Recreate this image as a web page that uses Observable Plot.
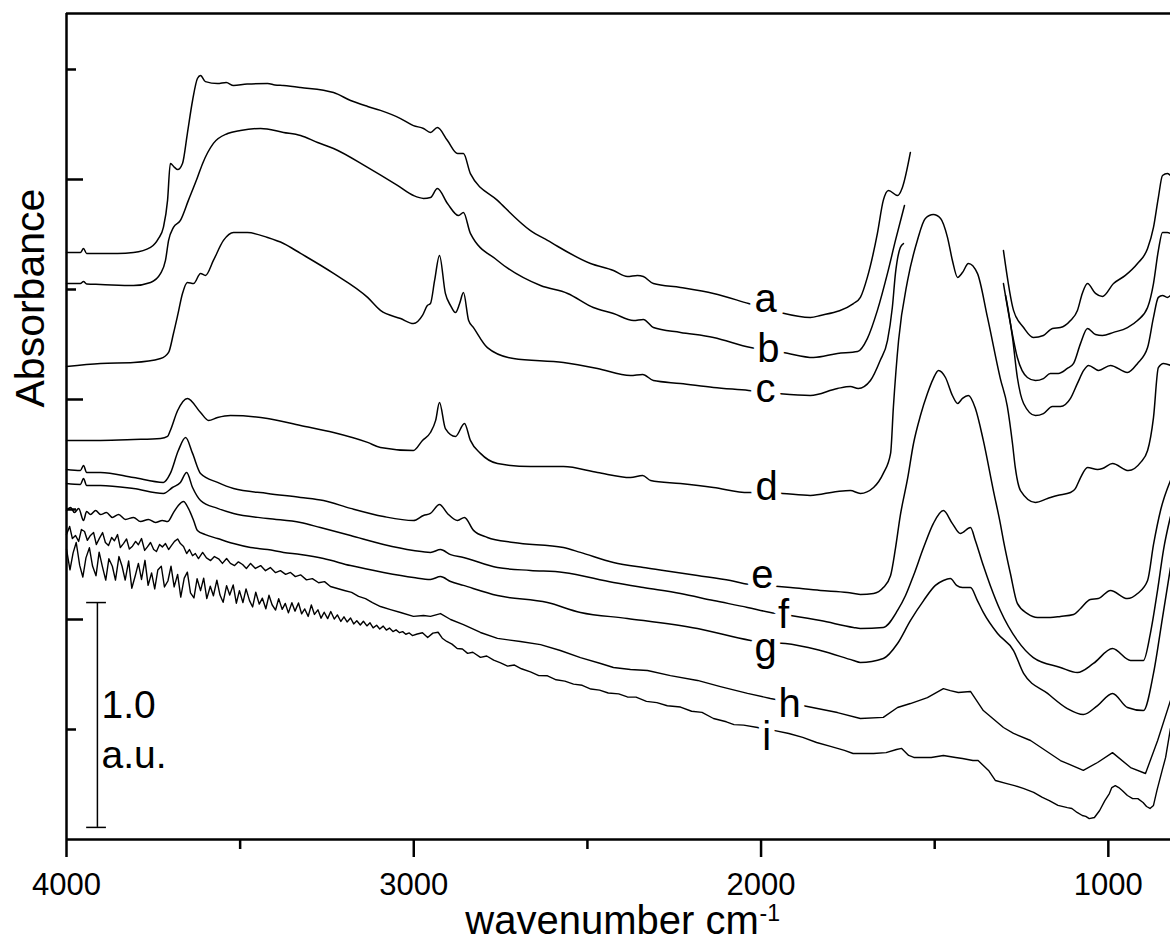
<!DOCTYPE html>
<html>
<head>
<meta charset="utf-8">
<script src="https://cdn.jsdelivr.net/npm/d3@7"></script>
<script src="https://cdn.jsdelivr.net/npm/@observablehq/plot@0.6"></script>
<style>
  html, body { margin: 0; padding: 0; background: #fff; }
  #chart svg { display: block; }
</style>
</head>
<body>
<div id="chart"></div>
<script>
// ---- Data: wavenumber (cm-1), absorbance (a.u., stacked) ----
const specA = [[4000,2.668],[3960,2.668],[3951,2.686],[3942,2.664],[3853,2.664],[3807,2.668],[3758,2.691],[3735,2.732],[3721,2.782],[3709,2.905],[3701,3.073],[3689,3.055],[3680,3.045],[3666,3.073],[3652,3.209],[3637,3.359],[3623,3.459],[3614,3.473],[3600,3.445],[3565,3.436],[3540,3.441],[3519,3.427],[3480,3.434],[3421,3.436],[3400,3.430],[3375,3.427],[3326,3.418],[3231,3.395],[3182,3.359],[3133,3.332],[3096,3.314],[3038,3.277],[3001,3.245],[2972,3.232],[2952,3.214],[2932,3.236],[2903,3.177],[2874,3.118],[2857,3.118],[2837,3.027],[2759,2.905],[2664,2.768],[2615,2.723],[2491,2.618],[2425,2.586],[2385,2.559],[2356,2.564],[2339,2.559],[2310,2.527],[2232,2.509],[2137,2.482],[2036,2.436],[1987,2.414],[1944,2.395],[1858,2.373],[1829,2.382],[1734,2.436],[1714,2.464],[1694,2.555],[1665,2.755],[1648,2.905],[1633,2.950],[1607,2.927],[1593,2.964],[1570,3.123],
  [1450,null],
  [1302,2.677],[1273,2.405],[1244,2.327],[1216,2.282],[1187,2.291],[1161,2.323],[1138,2.327],[1109,2.359],[1089,2.405],[1075,2.482],[1060,2.527],[1037,2.482],[1017,2.468],[985,2.527],[951,2.564],[916,2.618],[887,2.686],[870,2.782],[856,2.918],[844,3.018],[830,3.027],[821,3.018]];

const specB = [[4000,2.527],[3960,2.527],[3951,2.536],[3942,2.525],[3902,2.523],[3807,2.518],[3758,2.532],[3729,2.573],[3715,2.632],[3706,2.723],[3692,2.782],[3672,2.814],[3649,2.905],[3623,3.009],[3608,3.073],[3577,3.164],[3536,3.209],[3499,3.223],[3441,3.232],[3375,3.214],[3326,3.200],[3277,3.168],[3231,3.141],[3133,3.055],[3047,2.973],[3001,2.927],[2972,2.914],[2952,2.918],[2932,2.959],[2903,2.891],[2871,2.836],[2857,2.850],[2837,2.755],[2759,2.632],[2635,2.518],[2557,2.482],[2483,2.418],[2425,2.391],[2367,2.359],[2339,2.364],[2310,2.327],[2232,2.305],[2137,2.282],[2030,2.236],[1982,2.223],[1938,2.214],[1849,2.191],[1780,2.209],[1722,2.218],[1694,2.277],[1665,2.405],[1636,2.573],[1613,2.723],[1587,2.882],
  [1450,null],
  [1302,2.527],[1282,2.345],[1262,2.191],[1233,2.100],[1210,2.086],[1187,2.095],[1167,2.118],[1144,2.118],[1118,2.141],[1100,2.164],[1080,2.255],[1060,2.323],[1037,2.295],[1017,2.291],[985,2.305],[945,2.327],[916,2.359],[887,2.418],[870,2.527],[856,2.677],[844,2.759],[830,2.759],[821,2.755]];

const specC = [[4000,2.150],[3902,2.164],[3807,2.168],[3729,2.186],[3706,2.214],[3692,2.300],[3680,2.382],[3666,2.482],[3652,2.532],[3634,2.527],[3614,2.573],[3600,2.564],[3577,2.632],[3548,2.723],[3519,2.759],[3479,2.759],[3421,2.736],[3375,2.709],[3326,2.664],[3231,2.573],[3133,2.464],[3096,2.405],[3038,2.368],[3001,2.345],[2975,2.382],[2961,2.427],[2952,2.436],[2940,2.541],[2926,2.655],[2909,2.482],[2894,2.427],[2880,2.395],[2868,2.436],[2857,2.486],[2842,2.359],[2828,2.327],[2788,2.236],[2713,2.186],[2569,2.168],[2471,2.141],[2376,2.109],[2341,2.114],[2310,2.086],[2232,2.073],[2137,2.055],[2036,2.041],[1953,2.027],[1858,2.018],[1780,2.050],[1743,2.059],[1720,2.050],[1685,2.086],[1657,2.177],[1636,2.268],[1622,2.418],[1613,2.573],[1599,2.691],[1590,2.709],
  [1450,null],
  [1296,2.473],[1288,2.405],[1276,2.282],[1262,2.100],[1244,1.982],[1210,1.927],[1187,1.936],[1161,1.968],[1138,1.968],[1109,2.005],[1089,2.073],[1071,2.132],[1057,2.155],[1028,2.132],[994,2.155],[945,2.123],[916,2.164],[887,2.236],[870,2.373],[856,2.464],[844,2.473],[830,2.464],[821,2.473]];

const specD = [[4000,1.814],[3902,1.814],[3807,1.818],[3729,1.823],[3709,1.832],[3701,1.859],[3680,1.950],[3652,2.005],[3614,1.941],[3591,1.905],[3565,1.918],[3528,1.927],[3421,1.914],[3326,1.882],[3231,1.850],[3133,1.805],[3096,1.782],[3001,1.768],[2975,1.814],[2952,1.850],[2937,1.905],[2926,1.986],[2909,1.868],[2880,1.832],[2854,1.891],[2837,1.814],[2808,1.755],[2759,1.709],[2664,1.695],[2569,1.695],[2471,1.668],[2376,1.645],[2341,1.655],[2318,1.632],[2232,1.618],[2137,1.600],[2036,1.577],[1984,1.577],[1938,1.573],[1858,1.564],[1780,1.582],[1743,1.586],[1714,1.573],[1676,1.600],[1648,1.664],[1627,1.755],[1619,1.964],[1604,2.268],[1578,2.541],[1550,2.723],[1527,2.823],[1504,2.841],[1483,2.823],[1463,2.736],[1449,2.632],[1434,2.555],[1420,2.577],[1403,2.618],[1377,2.573],[1348,2.373],[1311,2.095],[1291,1.970],[1276,1.800],[1268,1.691],[1253,1.586],[1210,1.532],[1175,1.550],[1147,1.564],[1109,1.577],[1095,1.595],[1080,1.645],[1060,1.691],[1031,1.682],[1017,1.686],[988,1.709],[942,1.677],[907,1.714],[887,1.768],[870,1.918],[856,2.145],[841,2.164],[821,2.155]];

const specE = [[4000,1.682],[3960,1.677],[3951,1.700],[3942,1.668],[3902,1.668],[3807,1.645],[3721,1.623],[3701,1.664],[3678,1.768],[3657,1.827],[3637,1.755],[3614,1.664],[3565,1.623],[3519,1.595],[3421,1.573],[3326,1.555],[3260,1.541],[3182,1.505],[3087,1.468],[3001,1.450],[2972,1.473],[2952,1.482],[2926,1.523],[2903,1.482],[2874,1.450],[2854,1.464],[2828,1.405],[2788,1.373],[2713,1.350],[2569,1.327],[2520,1.305],[2425,1.259],[2339,1.236],[2281,1.223],[2183,1.200],[2088,1.177],[2051,1.164],[1987,1.155],[1915,1.145],[1829,1.132],[1751,1.123],[1714,1.114],[1676,1.118],[1648,1.145],[1627,1.200],[1613,1.323],[1599,1.473],[1578,1.641],[1561,1.800],[1541,1.927],[1521,2.027],[1504,2.095],[1489,2.132],[1469,2.100],[1449,2.018],[1434,1.982],[1420,2.005],[1403,2.018],[1383,1.960],[1360,1.814],[1331,1.586],[1311,1.436],[1302,1.359],[1282,1.209],[1262,1.073],[1233,1.027],[1204,1.009],[1167,1.009],[1138,1.014],[1100,1.023],[1080,1.050],[1052,1.091],[1029,1.095],[994,1.132],[945,1.095],[916,1.118],[887,1.177],[870,1.340],[849,1.500],[821,1.632]];

const specF = [[4000,1.618],[3960,1.614],[3951,1.641],[3942,1.609],[3902,1.609],[3807,1.595],[3721,1.573],[3695,1.600],[3672,1.623],[3654,1.668],[3637,1.600],[3614,1.541],[3565,1.505],[3519,1.482],[3421,1.459],[3326,1.441],[3269,1.418],[3182,1.382],[3087,1.341],[3001,1.314],[2952,1.305],[2923,1.318],[2894,1.295],[2857,1.282],[2759,1.236],[2664,1.223],[2569,1.214],[2425,1.168],[2339,1.145],[2232,1.118],[2137,1.086],[2039,1.055],[1973,1.032],[1915,1.018],[1829,0.995],[1734,0.964],[1714,0.959],[1648,0.964],[1607,1.041],[1584,1.109],[1561,1.200],[1532,1.327],[1504,1.436],[1475,1.495],[1449,1.436],[1426,1.391],[1397,1.418],[1383,1.359],[1360,1.245],[1340,1.155],[1311,1.041],[1262,0.905],[1216,0.827],[1138,0.782],[1089,0.759],[1043,0.800],[988,0.868],[936,0.814],[899,0.814],[879,0.936],[858,1.136],[841,1.318],[821,1.468]];

const specG = [[4000,1.495],[3988,1.509],[3977,1.486],[3965,1.505],[3951,1.450],[3942,1.491],[3931,1.477],[3916,1.495],[3902,1.477],[3885,1.486],[3868,1.464],[3850,1.477],[3830,1.455],[3807,1.464],[3787,1.445],[3764,1.455],[3744,1.441],[3724,1.450],[3709,1.445],[3692,1.486],[3678,1.518],[3663,1.536],[3649,1.505],[3634,1.450],[3623,1.405],[3600,1.386],[3565,1.368],[3519,1.345],[3470,1.327],[3421,1.318],[3375,1.305],[3326,1.295],[3260,1.277],[3182,1.245],[3087,1.214],[3001,1.191],[2952,1.182],[2923,1.195],[2894,1.173],[2857,1.155],[2759,1.109],[2615,1.077],[2520,1.032],[2385,1.005],[2183,0.959],[2030,0.905],[1987,0.895],[1930,0.891],[1829,0.859],[1734,0.814],[1714,0.805],[1648,0.823],[1607,0.891],[1570,0.995],[1532,1.086],[1498,1.155],[1475,1.177],[1455,1.186],[1437,1.155],[1420,1.145],[1397,1.145],[1377,1.086],[1360,1.032],[1319,0.936],[1273,0.859],[1244,0.755],[1175,0.664],[1118,0.595],[1072,0.568],[1031,0.609],[988,0.664],[945,0.600],[899,0.586],[870,0.755],[844,1.009],[821,1.236]];

const specH = [[4000,1.386],[3991,1.423],[3983,1.368],[3974,1.382],[3965,1.355],[3957,1.409],[3948,1.400],[3940,1.360],[3931,1.382],[3922,1.395],[3914,1.341],[3905,1.370],[3896,1.395],[3888,1.350],[3879,1.336],[3870,1.373],[3862,1.358],[3853,1.386],[3845,1.327],[3836,1.345],[3827,1.366],[3819,1.320],[3810,1.333],[3801,1.355],[3793,1.340],[3784,1.368],[3775,1.314],[3767,1.330],[3758,1.350],[3749,1.318],[3741,1.309],[3732,1.341],[3724,1.330],[3715,1.345],[3706,1.318],[3698,1.336],[3689,1.355],[3680,1.366],[3672,1.345],[3663,1.332],[3654,1.300],[3646,1.318],[3637,1.290],[3629,1.300],[3620,1.277],[3608,1.305],[3597,1.280],[3585,1.268],[3574,1.286],[3562,1.276],[3551,1.255],[3539,1.277],[3528,1.255],[3516,1.245],[3505,1.262],[3493,1.250],[3482,1.232],[3470,1.255],[3456,1.232],[3441,1.245],[3427,1.222],[3413,1.236],[3398,1.213],[3384,1.222],[3369,1.205],[3355,1.214],[3341,1.195],[3326,1.203],[3309,1.180],[3292,1.186],[3274,1.167],[3257,1.172],[3240,1.150],[3220,1.141],[3200,1.132],[3179,1.123],[3159,1.105],[3139,1.095],[3119,1.077],[3096,1.059],[3067,1.045],[3038,1.032],[3001,1.014],[2972,1.018],[2952,1.014],[2923,1.027],[2894,1.000],[2857,0.977],[2808,0.941],[2759,0.914],[2693,0.900],[2635,0.886],[2578,0.859],[2520,0.827],[2462,0.800],[2425,0.782],[2376,0.773],[2327,0.768],[2261,0.745],[2183,0.723],[2117,0.695],[2039,0.664],[1973,0.641],[1915,0.623],[1881,0.609],[1780,0.577],[1714,0.550],[1648,0.555],[1607,0.600],[1570,0.618],[1521,0.645],[1475,0.686],[1455,0.677],[1432,0.668],[1397,0.673],[1360,0.586],[1302,0.509],[1273,0.482],[1224,0.450],[1138,0.359],[1072,0.314],[1031,0.350],[988,0.395],[936,0.327],[893,0.300],[858,0.450],[821,0.632]];

const specI = [[4000,1.320],[3990,1.226],[3981,1.303],[3972,1.350],[3962,1.246],[3953,1.193],[3944,1.280],[3934,1.326],[3925,1.243],[3915,1.199],[3906,1.306],[3897,1.243],[3887,1.179],[3878,1.276],[3868,1.242],[3859,1.179],[3849,1.286],[3840,1.242],[3831,1.179],[3821,1.266],[3812,1.142],[3802,1.199],[3793,1.255],[3784,1.182],[3774,1.269],[3765,1.155],[3755,1.212],[3746,1.139],[3737,1.225],[3727,1.242],[3718,1.148],[3708,1.175],[3699,1.242],[3690,1.148],[3680,1.205],[3671,1.102],[3661,1.188],[3652,1.215],[3643,1.121],[3633,1.098],[3624,1.185],[3614,1.131],[3605,1.188],[3596,1.095],[3586,1.151],[3577,1.108],[3567,1.179],[3558,1.111],[3549,1.078],[3539,1.154],[3530,1.111],[3520,1.157],[3511,1.074],[3502,1.131],[3492,1.077],[3483,1.139],[3473,1.086],[3464,1.057],[3455,1.124],[3445,1.070],[3436,1.097],[3426,1.049],[3417,1.110],[3408,1.067],[3398,1.043],[3389,1.095],[3379,1.046],[3370,1.073],[3361,1.030],[3351,1.076],[3342,1.038],[3332,1.075],[3323,1.026],[3314,1.048],[3304,1.014],[3295,1.066],[3286,1.023],[3276,1.044],[3267,1.006],[3258,1.033],[3248,1.004],[3239,1.036],[3229,1.002],[3220,1.021],[3210,0.991],[3201,1.012],[3192,0.989],[3182,1.007],[3173,0.980],[3164,0.994],[3154,0.975],[3145,0.992],[3135,0.971],[3126,0.985],[3117,0.962],[3107,0.974],[3098,0.957],[3088,0.970],[3079,0.952],[3070,0.961],[3060,0.945],[3051,0.953],[3041,0.940],[3032,0.945],[3023,0.933],[3013,0.939],[3004,0.927],[2990,0.934],[2975,0.940],[2960,0.918],[2945,0.938],[2930,0.942],[2918,0.915],[2905,0.900],[2890,0.888],[2875,0.868],[2860,0.866],[2845,0.846],[2830,0.851],[2808,0.828],[2790,0.834],[2770,0.815],[2750,0.803],[2730,0.788],[2710,0.793],[2690,0.776],[2664,0.762],[2640,0.745],[2615,0.744],[2590,0.726],[2565,0.720],[2540,0.706],[2515,0.701],[2490,0.684],[2465,0.679],[2440,0.666],[2410,0.662],[2385,0.648],[2360,0.647],[2330,0.628],[2300,0.622],[2270,0.608],[2232,0.602],[2200,0.583],[2170,0.578],[2137,0.550],[2100,0.535],[2078,0.522],[2050,0.520],[2010,0.509],[1990,0.500],[1960,0.495],[1920,0.482],[1880,0.464],[1840,0.441],[1800,0.423],[1760,0.405],[1735,0.391],[1700,0.391],[1676,0.391],[1640,0.395],[1610,0.409],[1595,0.414],[1575,0.382],[1560,0.373],[1530,0.373],[1510,0.373],[1475,0.382],[1440,0.373],[1420,0.368],[1390,0.359],[1375,0.359],[1345,0.314],[1325,0.268],[1295,0.255],[1270,0.245],[1245,0.232],[1215,0.214],[1190,0.191],[1170,0.177],[1145,0.155],[1118,0.145],[1105,0.141],[1090,0.123],[1075,0.109],[1065,0.105],[1055,0.095],[1040,0.100],[1025,0.132],[1010,0.177],[997,0.209],[990,0.236],[980,0.245],[970,0.236],[960,0.223],[945,0.200],[930,0.186],[915,0.186],[900,0.168],[890,0.150],[880,0.141],[870,0.155],[860,0.223],[845,0.314],[835,0.373],[821,0.505]];

const seriesNames = ["a", "b", "c", "d", "e", "f", "g", "h", "i"];
const noisySeries = ["h", "i"];
const xMajorTicks = [4000, 3000, 2000, 1000];
const xMinorTicks = [3500, 2500, 1500];
const yMajorTicks = [1, 2, 3];
const yMinorTicks = [0.5, 1.5, 2.5, 3.5];
const xAxisTitle = "wavenumber cm";
const xAxisTitleSup = "-1";
const yAxisTitle = "Absorbance";
const scaleBarText = ["1.0", "a.u."];

// ---- Annotation placement (separate from the data) ----
const labelAt = [[1987,2.455],[1979,2.227],[1987,2.045],[1984,1.600],[1996,1.200],[1935,1.018],[1987,0.868],[1918,0.614],[1984,0.464]];
const xDomain = [4000, 821];
const yDomain = [0, 3.7545];
const scaleBar = {x: 3911, from: 0.055, to: 1.077, capFrom: 3942, capTo: 3885, textX: 3899, textY: [0.611, 0.384]};

// ---- Build tables ----
const spectra = [specA, specB, specC, specD, specE, specF, specG, specH, specI];
const rows = spectra.flatMap((s, k) => s.map(([wn, a]) => ({series: seriesNames[k], wn, a})));
const smoothRows = rows.filter(d => !noisySeries.includes(d.series));
const noisyRows = rows.filter(d => noisySeries.includes(d.series));
const labelRows = seriesNames.map((name, k) => ({name, wn: labelAt[k][0], a: labelAt[k][1]}));
const scaleTextRows = scaleBarText.map((t, k) => ({t, wn: scaleBar.textX, a: scaleBar.textY[k]}));

const FONT = "'Liberation Sans', Arial, Helvetica, sans-serif";

const chart = Plot.plot({
  width: 1170,
  height: 951,
  marginLeft: 66,
  marginRight: 0,
  marginTop: 13,
  marginBottom: 112,
  style: {fontFamily: FONT, background: "#fff", color: "#000", overflow: "visible"},
  x: {domain: xDomain, label: null},
  y: {domain: yDomain, label: null},
  marks: [
    // spectra
    Plot.line(smoothRows, {x: "wn", y: "a", z: "series", stroke: "#000", strokeWidth: 1.5, curve: "monotone-x"}),
    Plot.line(noisyRows, {x: "wn", y: "a", z: "series", stroke: "#000", strokeWidth: 1.4, curve: "linear", strokeLinejoin: "round"}),
    // curve labels with white halo that interrupts the line
    Plot.text(labelRows, {x: "wn", y: "a", text: "name", fontSize: 40, fill: "#000",
      stroke: "#fff", strokeWidth: 12, strokeLinejoin: "round", paintOrder: "stroke", textAnchor: "middle"}),
    // frame (left, bottom, top)
    Plot.ruleX([xDomain[0]], {stroke: "#000", strokeWidth: 2.5}),
    Plot.ruleY([yDomain[0], yDomain[1]], {stroke: "#000", strokeWidth: 2.5}),
    // x axis: outward ticks
    Plot.axisX({ticks: xMajorTicks, tickSize: 18, tickPadding: 15, fontSize: 31, strokeWidth: 2.5,
      tickFormat: d => String(d), label: null}),
    Plot.axisX({ticks: xMinorTicks, tickSize: 10, strokeWidth: 2.5, tickFormat: () => "", label: null}),
    // y axis: inward ticks, no labels
    Plot.axisY({ticks: yMajorTicks, tickSize: 17, dx: 17, strokeWidth: 2.5, tickFormat: () => "", label: null}),
    Plot.axisY({ticks: yMinorTicks, tickSize: 10, dx: 10, strokeWidth: 2.5, tickFormat: () => "", label: null}),
    // scale bar
    Plot.ruleX([scaleBar.x], {y1: scaleBar.from, y2: scaleBar.to, stroke: "#000", strokeWidth: 1.5}),
    Plot.ruleY([scaleBar.from, scaleBar.to], {x1: scaleBar.capFrom, x2: scaleBar.capTo, stroke: "#000", strokeWidth: 1.5}),
    Plot.text(scaleTextRows, {x: "wn", y: "a", text: "t", fontSize: 39, textAnchor: "start", fill: "#000"}),
    // axis titles
    Plot.text([yAxisTitle], {frameAnchor: "left", dx: -36, dy: -19, rotate: -90, fontSize: 41, fill: "#000"}),
    Plot.text([xAxisTitle], {frameAnchor: "bottom", dx: -6.5, dy: 94, fontSize: 40, fill: "#000"}),
    Plot.text([xAxisTitleSup], {frameAnchor: "bottom", dx: 141, dy: 81, fontSize: 23, textAnchor: "start", fill: "#000"})
  ]
});

document.getElementById("chart").appendChild(chart);
</script>
</body>
</html>
